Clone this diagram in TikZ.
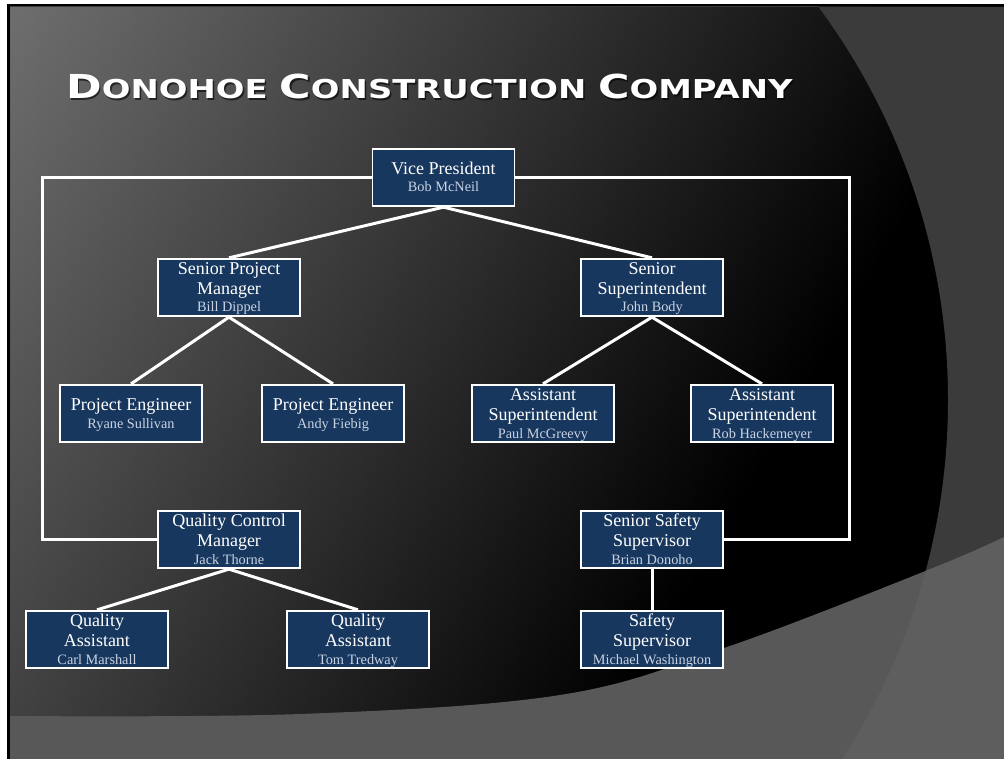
\documentclass[tikz,border=0pt]{standalone}
\usepackage{fontspec}
\setmainfont{Liberation Serif}
\newfontfamily\titlefont{DejaVu Sans}
\pgfdeclarelayer{back}
\pgfdeclarelayer{conn}
\pgfsetlayers{back,conn,main}
\definecolor{boxblue}{HTML}{17375E}
\definecolor{namecol}{HTML}{C9D3E3}
\definecolor{gradtop}{HTML}{6E6E6E}
\definecolor{panel}{HTML}{3B3B3B}
\definecolor{band}{HTML}{585858}
\definecolor{bandpanel}{HTML}{5E5E5E}
\newcommand\tstrut{\rule{0pt}{15.5pt}}
\newcommand\pname[1]{\\[-2.5pt]{\color{namecol}\fontsize{14.3}{17.5}\selectfont #1}\rule[-4pt]{0pt}{4pt}}
\newcommand\bigC[1]{{\fontsize{33}{33}\selectfont #1}}
\begin{document}
\begin{tikzpicture}[x=1pt,y=-1pt,
  person/.style={draw=white, line width=1.8pt, fill=boxblue, text=white,
    minimum width=142pt, minimum height=57.5pt, inner sep=0pt, align=center,
    font=\fontsize{18}{20}\selectfont},
  conn/.style={draw=white, line width=3pt},
  titletext/.style={anchor=base west, inner sep=0pt, xscale=1.30,
    font=\titlefont\bfseries\fontsize{26}{26}\selectfont}]
\useasboundingbox (0,0) rectangle (1004,759);
\begin{pgfonlayer}{back}
\fill[white] (0,0) rectangle (1004,759);
\fill[black] (7,4) rectangle (1004,759);
\begin{scope}
  \clip (10,7) rectangle (1004,759);
  \fill[black] (10,7) rectangle (1004,759);
  \begin{scope}[transform canvas={rotate around={-30:(10,7)}}]
    \shade[left color=gradtop, right color=black] (10,-493) rectangle (890,667);
  \end{scope}
  \fill[panel, even odd rule] (10,7) rectangle (1004,759) (287,400) circle (661pt);
  \fill[band] plot[smooth, tension=0.6] coordinates {(10,716) (300,714) (560,695) (727,647) (933,568) (1004,537)} -- (1004,759) -- (10,759) -- cycle;
  \begin{scope}
    \clip plot[smooth, tension=0.6] coordinates {(10,716) (300,714) (560,695) (727,647) (933,568) (1004,537)} -- (1004,759) -- (10,759) -- cycle;
    \fill[bandpanel, even odd rule] (10,7) rectangle (1004,759) (287,400) circle (661pt);
  \end{scope}
\end{scope}
\end{pgfonlayer}

\node[titletext, text=black, opacity=0.6] (titleshadow) at (67.5,100.5)
  {\bigC{D}ONOHOE \bigC{C}ONSTRUCTION \bigC{C}OMPANY};
\node[titletext, text=white] (title) at (66,99)
  {\bigC{D}ONOHOE \bigC{C}ONSTRUCTION \bigC{C}OMPANY};

\node[person] (vp)  at (443.5,177.5) {\tstrut Vice President\pname{Bob McNeil}};
\node[person] (spm) at (229,287.5) {\tstrut Senior Project\\Manager\pname{Bill Dippel}};
\node[person] (ss)  at (652,287.5) {\tstrut Senior\\Superintendent\pname{John Body}};
\node[person] (pe1) at (131,413.5) {\tstrut Project Engineer\pname{Ryane Sullivan}};
\node[person] (pe2) at (333,413.5) {\tstrut Project Engineer\pname{Andy Fiebig}};
\node[person] (as1) at (543,413.5) {\tstrut Assistant\\Superintendent\pname{Paul McGreevy}};
\node[person] (as2) at (762,413.5) {\tstrut Assistant\\Superintendent\pname{Rob Hackemeyer}};
\node[person] (qcm) at (229,539.5) {\tstrut Quality Control\\Manager\pname{Jack Thorne}};
\node[person] (sss) at (652,539.5) {\tstrut Senior Safety\\Supervisor\pname{Brian Donoho}};
\node[person] (qa1) at (97,639.5) {\tstrut Quality\\Assistant\pname{Carl Marshall}};
\node[person] (qa2) at (358,639.5) {\tstrut Quality\\Assistant\pname{Tom Tredway}};
\node[person] (saf) at (652,639.5) {\tstrut Safety\\Supervisor\pname{Michael Washington}};

\begin{pgfonlayer}{conn}
\draw[conn] (vp.south) -- (spm.north);
\draw[conn] (vp.south) -- (ss.north);
\draw[conn] (spm.south) -- (pe1.north);
\draw[conn] (spm.south) -- (pe2.north);
\draw[conn] (ss.south) -- (as1.north);
\draw[conn] (ss.south) -- (as2.north);
\draw[conn] (qcm.south) -- (qa1.north);
\draw[conn] (qcm.south) -- (qa2.north);
\draw[conn] (sss.south) -- (saf.north);
\coordinate (lc) at (42,539.5);
\coordinate (rc) at (849,539.5);
\draw[conn] (vp.west) -| (lc) -- (qcm.west);
\draw[conn] (vp.east) -| (rc) -- (sss.east);
\end{pgfonlayer}
\end{tikzpicture}
\end{document}
